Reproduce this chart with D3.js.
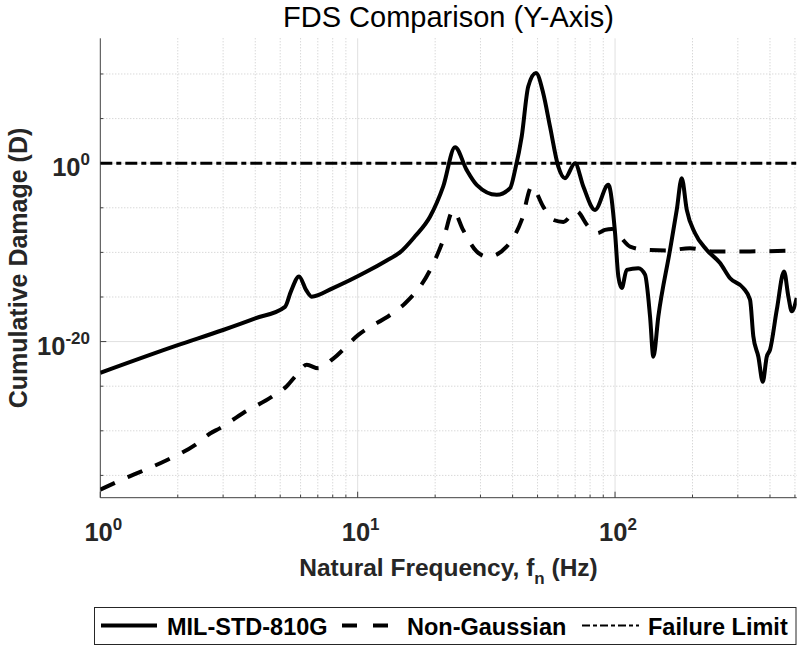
<!DOCTYPE html>
<html>
<head>
<meta charset="utf-8">
<script src="https://cdn.jsdelivr.net/npm/d3@7"></script>
<style>
body { margin: 0; background: #fff; }
text { font-family: "Liberation Sans", Arial, Helvetica, sans-serif; fill: #262626; }
</style>
</head>
<body>
<div id="chart"></div>
<script>
// MIL-STD-810G fatigue damage spectrum (frequency in Hz, log10 of damage)
const milFreq = [1, 2, 3, 4, 5.22, 5.5, 5.92, 6.3, 6.62, 8.02, 10.85, 12.97, 14.6, 16.7, 19.1, 21.5, 23.9,
    26.5, 29.0, 34.7, 39.1, 40.9, 43.4, 46.0, 49.3, 52.6, 55.9, 60.2, 63.9, 69.9, 75.3, 83.6, 94.2,
    100, 103, 106.2, 111, 123.2, 130.8, 136.8, 140.9, 147.3, 163.6, 173.7, 181.6, 190, 204.6, 227.2,
    255.9, 279.9, 315.2, 334.6, 344.6, 360.5, 375, 388.6, 400.3, 425, 453.7, 471.5, 486, 508];
const milLogD = [-23.5, -20.4, -18.7, -17.4, -16.1, -14.4, -12.7, -14.2, -14.96, -14.0, -12.15, -10.9, -10.0, -8.2, -6.0, -2.6, 1.8,
    -0.75, -2.43, -3.55, -2.8, -0.75, 3.0, 8.6, 10.1, 7.85, 4.1, -0.38, -1.68, 0.0, -2.62, -5.24, -2.43,
    -7.8, -12.7, -14.0, -11.96, -11.77, -12.5, -17.2, -21.7, -17.2, -9.7, -5.24, -1.68, -5.24, -7.85, -9.72,
    -11.2, -12.9, -14.0, -15.3, -19.4, -21.7, -24.5, -21.7, -20.9, -16.45, -12.15, -14.96, -16.6, -15.1];

// Non-Gaussian fatigue damage spectrum
const ngFreq = [1, 1.3, 1.43, 1.81, 2.33, 2.67, 2.92, 3.59, 4.63, 5.3, 5.8, 6.34, 7.03, 8.04, 10.06, 13.7,
    15.3, 19.1, 21.5, 23.5, 25.7, 29.0, 32.1, 37.9, 43.4, 47.5, 52.6, 57.6, 63.0, 70.6, 78.8, 85.1, 91.4,
    97.3, 104.6, 114.4, 132.8, 158.8, 195.6, 241, 334.6, 508];
const ngLogD = [-36.6, -35.1, -34.6, -33.3, -31.6, -30.3, -29.7, -28.0, -26.2, -25.0, -23.7, -22.6, -23.0, -21.9, -19.25, -16.8,
    -15.7, -12.0, -8.6, -5.3, -7.5, -9.9, -10.5, -9.35, -6.36, -2.62, -4.87, -6.36, -6.58, -5.35, -7.11, -7.85, -7.48,
    -7.37, -8.23, -9.35, -9.72, -9.78, -9.53, -9.91, -9.89, -9.8];

const failureLimit = 1;

const xMajorTicks = [1, 10, 100];
const xMajorExp = ['0', '1', '2'];
const xMinorTicks = [2, 3, 4, 5, 6, 7, 8, 9, 20, 30, 40, 50, 60, 70, 80, 90, 200, 300, 400, 500];
const yMajorExp = [-20, 0];
const yMinorExp = [-35, -30, -25, -15, -10, -5, 5, 10];

const legendNames = ['MIL-STD-810G', 'Non-Gaussian', 'Failure Limit'];

const W = 800, H = 649;
const plot = { left: 100.3, right: 796.7, top: 38.3, bottom: 497.7 };

const svg = d3.select('#chart').append('svg')
    .attr('width', W)
    .attr('height', H);

const x = d3.scaleLog()
    .domain([1, 508])
    .range([plot.left, plot.right]);

const y = d3.scaleLog()
    .domain([Math.pow(10, -37.5), Math.pow(10, 14)])
    .range([plot.bottom, plot.top]);

// grid
const grid = svg.append('g');
grid.selectAll('.xminor').data(xMinorTicks).enter().append('line')
    .attr('x1', d => x(d)).attr('x2', d => x(d))
    .attr('y1', plot.top).attr('y2', plot.bottom)
    .attr('stroke', '#c8c8c8').attr('stroke-width', 1).attr('stroke-dasharray', '1,2');
grid.selectAll('.yminor').data(yMinorExp).enter().append('line')
    .attr('x1', plot.left).attr('x2', plot.right)
    .attr('y1', d => y(Math.pow(10, d))).attr('y2', d => y(Math.pow(10, d)))
    .attr('stroke', '#c8c8c8').attr('stroke-width', 1).attr('stroke-dasharray', '1,2');
grid.selectAll('.xmajor').data(xMajorTicks.slice(1)).enter().append('line')
    .attr('x1', d => x(d)).attr('x2', d => x(d))
    .attr('y1', plot.top).attr('y2', plot.bottom)
    .attr('stroke', '#e0e0e0').attr('stroke-width', 1);
grid.selectAll('.ymajor').data(yMajorExp).enter().append('line')
    .attr('x1', plot.left).attr('x2', plot.right)
    .attr('y1', d => y(Math.pow(10, d))).attr('y2', d => y(Math.pow(10, d)))
    .attr('stroke', '#e0e0e0').attr('stroke-width', 1);

// axes (left and bottom only, ticks inward)
const axes = svg.append('g').attr('stroke', '#404040').attr('stroke-width', 1);
axes.append('line').attr('x1', plot.left).attr('x2', plot.right).attr('y1', plot.bottom).attr('y2', plot.bottom);
axes.append('line').attr('x1', plot.left).attr('x2', plot.left).attr('y1', plot.top).attr('y2', plot.bottom);
axes.selectAll('.xt').data(xMajorTicks).enter().append('line')
    .attr('x1', d => x(d)).attr('x2', d => x(d)).attr('y1', plot.bottom).attr('y2', plot.bottom - 6);
axes.selectAll('.xm').data(xMinorTicks).enter().append('line')
    .attr('x1', d => x(d)).attr('x2', d => x(d)).attr('y1', plot.bottom).attr('y2', plot.bottom - 3);
axes.selectAll('.yt').data(yMajorExp).enter().append('line')
    .attr('x1', plot.left).attr('x2', plot.left + 6)
    .attr('y1', d => y(Math.pow(10, d))).attr('y2', d => y(Math.pow(10, d)));
axes.selectAll('.ym').data(yMinorExp).enter().append('line')
    .attr('x1', plot.left).attr('x2', plot.left + 3)
    .attr('y1', d => y(Math.pow(10, d))).attr('y2', d => y(Math.pow(10, d)));

// tick labels
const xLab = svg.selectAll('.xlab').data(xMajorTicks).enter().append('text')
    .attr('x', d => x(d) + 3).attr('y', 541)
    .attr('text-anchor', 'middle')
    .style('font-weight', 'bold').style('font-size', '25.5px');
xLab.append('tspan').text('10');
xLab.append('tspan').attr('dy', -11).style('font-size', '17px').text((d, i) => xMajorExp[i]);

const yLab = svg.selectAll('.ylab').data(yMajorExp).enter().append('text')
    .attr('x', 90).attr('y', d => y(Math.pow(10, d)) + 13)
    .attr('text-anchor', 'end')
    .style('font-weight', 'bold').style('font-size', '25.5px');
yLab.append('tspan').text('10');
yLab.append('tspan').attr('dy', -11).style('font-size', '17px').text(d => d);

// title and labels
svg.append('text')
    .attr('x', (plot.left + plot.right) / 2).attr('y', 27)
    .attr('text-anchor', 'middle')
    .style('font-size', '29px')
    .style('fill', '#000')
    .text('FDS Comparison (Y-Axis)');

const xTitle = svg.append('text')
    .attr('x', (plot.left + plot.right) / 2).attr('y', 576)
    .attr('text-anchor', 'middle')
    .style('font-weight', 'bold').style('font-size', '24.5px');
xTitle.append('tspan').text('Natural Frequency, f');
xTitle.append('tspan').attr('dy', 8).style('font-size', '17px').text('n');
xTitle.append('tspan').attr('dy', -8).text(' (Hz)');

svg.append('text')
    .attr('transform', `translate(27,${(plot.top + plot.bottom) / 2}) rotate(-90)`)
    .attr('text-anchor', 'middle')
    .style('font-weight', 'bold').style('font-size', '25px')
    .text('Cumulative Damage (D)');

// series
const line = d3.line()
    .x(d => x(d.f))
    .y(d => y(d.d))
    .curve(d3.curveMonotoneX);

const milData = milFreq.map((f, i) => ({ f: f, d: Math.pow(10, milLogD[i]) }));
const ngData = ngFreq.map((f, i) => ({ f: f, d: Math.pow(10, ngLogD[i]) }));

svg.append('clipPath').attr('id', 'clip').append('rect')
    .attr('x', plot.left).attr('y', plot.top)
    .attr('width', plot.right - plot.left).attr('height', plot.bottom - plot.top);

const series = svg.append('g').attr('clip-path', 'url(#clip)');

series.append('line')
    .attr('x1', plot.left).attr('x2', plot.right)
    .attr('y1', y(failureLimit)).attr('y2', y(failureLimit))
    .attr('stroke', '#000').attr('stroke-width', 3)
    .attr('stroke-dasharray', '12,4,5,4');

series.append('path')
    .datum(ngData)
    .attr('d', line)
    .attr('fill', 'none').attr('stroke', '#000').attr('stroke-width', 4)
    .attr('stroke-dasharray', '16,14');

series.append('path')
    .datum(milData)
    .attr('d', line)
    .attr('fill', 'none').attr('stroke', '#000').attr('stroke-width', 4)
    .attr('stroke-linejoin', 'round');

// legend
const legend = svg.append('g');
legend.append('rect')
    .attr('x', 94.5).attr('y', 607.5).attr('width', 701.5).attr('height', 37)
    .attr('fill', '#fff').attr('stroke', '#262626').attr('stroke-width', 1);

const legendItems = [
    { name: legendNames[0], x1: 101, x2: 157, tx: 167, dash: null, w: 4 },
    { name: legendNames[1], x1: 342, x2: 388, tx: 407, dash: '15,16', w: 4 },
    { name: legendNames[2], x1: 582, x2: 639, tx: 648, dash: '8,3,4,3', w: 2 }
];
legendItems.forEach(it => {
    legend.append('line')
        .attr('x1', it.x1).attr('x2', it.x2).attr('y1', 625.5).attr('y2', 625.5)
        .attr('stroke', '#000').attr('stroke-width', it.w)
        .attr('stroke-dasharray', it.dash);
    legend.append('text')
        .attr('x', it.tx).attr('y', 634.5)
        .style('font-weight', 'bold').style('font-size', '23.5px')
        .style('fill', '#000')
        .text(it.name);
});
</script>
</body>
</html>
